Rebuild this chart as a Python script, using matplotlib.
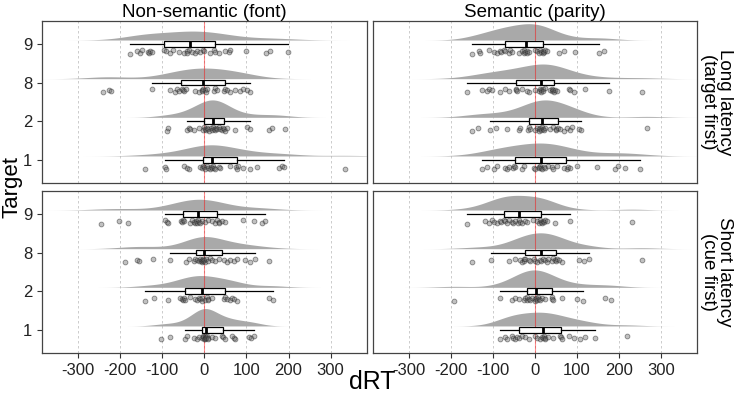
import numpy as np
import matplotlib
matplotlib.use("Agg")
import matplotlib.pyplot as plt

plt.rcParams['font.family'] = ['Liberation Sans', 'DejaVu Sans']

# dRT values per target
targets = ['1', '2', '8', '9']
columns = ['Non-semantic (font)', 'Semantic (parity)']
rows = ['Long latency\n(target first)', 'Short latency\n(cue first)']

font_long_9 = [-177, -160, -153, -148, -134, -130, -128, -124, -96, -91, -81, -73, -61, -47, -41, -40, -37,
               -29, -23, -17, -9, -4, 0, 14, 22, 26, 36, 50, 58, 62, 99, 147, 157, 198]
font_long_8 = [-241, -227, -221, -123, -81, -69, -65, -61, -53, -50, -48, -43, -21, -13, -6, -5, -2, 2, 3, 6,
               22, 26, 30, 48, 50, 54, 62, 74, 85, 93, 101, 109]
font_long_2 = [-89, -85, -41, -37, -33, -25, -13, -2, 0, 2, 5, 6, 10, 12, 15, 18, 20, 22, 26, 28, 30, 34, 38,
               42, 45, 46, 50, 55, 74, 101, 109, 153, 160, 192]
font_long_1 = [-140, -92, -91, -47, -41, -37, -9, -6, -2, 0, 2, 6, 10, 14, 15, 18, 20, 22, 26, 34, 38, 60, 75,
               77, 81, 93, 109, 125, 178, 184, 190, 333]

sem_long_9 = [-149, -132, -130, -110, -98, -90, -82, -80, -73, -70, -62, -60, -55, -39, -31, -27, -25, -23,
              -20, -19, -15, 0, 5, 10, 13, 15, 18, 20, 22, 25, 28, 56, 68, 96, 151, 165]
sem_long_8 = [-161, -126, -114, -110, -102, -82, -70, -62, -45, -45, -43, -30, -19, -15, 1, 9, 12, 15, 15, 18,
              20, 25, 36, 40, 40, 44, 45, 48, 52, 80, 84, 92, 119, 175, 254]
sem_long_2 = [-149, -134, -106, -92, -66, -39, -35, -17, -15, -12, 1, 5, 9, 10, 13, 15, 17, 20, 21, 25, 36, 44,
              50, 50, 55, 60, 68, 76, 84, 88, 104, 110, 266]
sem_long_1 = [-126, -114, -98, -90, -70, -66, -62, -51, -50, -47, -31, -27, -3, 1, 9, 10, 13, 15, 17, 21, 25,
              32, 40, 44, 52, 70, 76, 78, 84, 100, 147, 191, 198, 214, 250]

font_short_9 = [-244, -202, -181, -92, -89, -85, -55, -53, -50, -49, -33, -29, -25, -21, -20, -17, -15, -13,
                -10, -6, 2, 10, 18, 26, 30, 34, 36, 42, 50, 93, 119, 138, 145]
font_short_8 = [-189, -160, -154, -122, -81, -43, -37, -25, -21, -17, -13, -9, -8, -6, -5, -3, -2, 0, 2, 5,
                10, 14, 18, 26, 34, 46, 54, 62, 70, 77, 97, 109, 121, 153]
font_short_2 = [-140, -120, -85, -57, -53, -50, -49, -45, -33, -21, -17, -13, -10, -6, -5, 2, 6, 10, 10, 18,
                46, 50, 54, 60, 66, 70, 77, 153, 164]
font_short_1 = [-102, -81, -45, -41, -25, -17, -13, -6, -3, -2, 0, 1, 1, 2, 3, 5, 6, 8, 10, 18, 26, 42, 45,
                50, 66, 70, 74, 105, 111, 117]

sem_short_9 = [-161, -118, -110, -102, -98, -90, -82, -80, -74, -70, -66, -62, -55, -51, -47, -40, -39, -35,
               -30, -23, -20, -5, 5, 10, 13, 15, 17, 20, 21, 25, 28, 48, 84, 230]
sem_short_8 = [-149, -104, -62, -47, -35, -31, -27, -25, -23, -15, -11, -3, 1, 5, 13, 15, 20, 25, 28, 32, 40,
               44, 48, 50, 52, 56, 64, 104, 117, 129, 254]
sem_short_2 = [-193, -82, -55, -47, -39, -27, -23, -20, -19, -15, -11, -7, 0, 1, 3, 5, 8, 9, 13, 17, 25, 40,
               40, 44, 64, 100, 115, 167, 181]
sem_short_1 = [-82, -70, -66, -55, -51, -47, -43, -39, -31, -23, -15, 1, 5, 13, 17, 20, 21, 25, 25, 32, 44,
               60, 62, 64, 80, 92, 107, 119, 143, 218]

panels = {
    (0, 0): [font_long_1, font_long_2, font_long_8, font_long_9],
    (0, 1): [sem_long_1, sem_long_2, sem_long_8, sem_long_9],
    (1, 0): [font_short_1, font_short_2, font_short_8, font_short_9],
    (1, 1): [sem_short_1, sem_short_2, sem_short_8, sem_short_9],
}


def kde(vals):
    v = np.asarray(vals, dtype=float)
    n = len(v)
    bw = 1.06 * v.std(ddof=1) * n ** -0.2
    grid = np.linspace(v.min() - 3 * bw, v.max() + 3 * bw, 512)
    d = np.exp(-0.5 * ((grid[:, None] - v[None, :]) / bw) ** 2).sum(axis=1)
    d /= n * bw * np.sqrt(2 * np.pi)
    return grid, d


fig = plt.figure(figsize=(7.4, 3.98), dpi=100)
lefts = [42 / 740, 372.7 / 740]
bottoms = [1 - 183 / 398, 1 - 353 / 398]
w, h = 324.5 / 740, 162.3 / 398

for (r, c), groups in panels.items():
    ax = fig.add_axes([lefts[c], bottoms[r], w, h])
    ax.set_xlim(-385, 385)
    ax.set_ylim(0.4, 4.6)
    for xv in range(-300, 301, 100):
        ax.axvline(xv, color='#c4c4c4', lw=0.6, ls=(0, (3, 3)), zorder=0)

    dens = [kde(g) for g in groups]
    dmax = max(d.max() for _, d in dens)
    for i, (g, (grid, d)) in enumerate(zip(groups, dens)):
        pos = i + 1
        base = pos + 0.1
        ax.fill_between(grid, base, base + d / dmax * 0.45, color='#a9a9a9', lw=0, zorder=1)
        k = np.arange(len(g))
        jit = ((k * 0.618034) % 1 - 0.5) * 0.1
        ax.scatter(g, pos - 0.2 + jit, s=12, facecolor=(0.4, 0.4, 0.4, 0.4),
                   edgecolor=(0.15, 0.15, 0.15, 0.5), linewidths=0.6, zorder=4)
        ax.boxplot([g], positions=[pos], vert=False, widths=0.15, showfliers=False,
                   showcaps=False, patch_artist=True, manage_ticks=False,
                   boxprops=dict(facecolor='white', edgecolor='black', lw=0.9),
                   whiskerprops=dict(color='black', lw=0.9),
                   medianprops=dict(color='black', lw=2), zorder=3)

    ax.axvline(0, color='red', alpha=0.45, lw=0.8, zorder=2)

    for sp in ax.spines.values():
        sp.set_color('#444444')
        sp.set_linewidth(0.9)

    ax.set_yticks([1, 2, 3, 4])
    ax.set_xticks(range(-300, 301, 100))
    ax.tick_params(colors='#333333', labelsize=12, length=3.5, width=0.8)
    if c == 0:
        ax.set_yticklabels(targets, color='#222222')
    else:
        ax.tick_params(axis='y', left=False, labelleft=False)
    if r == 1:
        ax.set_xticklabels([str(t) for t in range(-300, 301, 100)], color='#222222')
    else:
        ax.tick_params(axis='x', bottom=False, labelbottom=False)

    if r == 0:
        ax.set_title(columns[c], fontsize=13.5, pad=2)
    if c == 1:
        ax.text(1.06, 0.5, rows[r], transform=ax.transAxes, rotation=270,
                ha='center', va='center', fontsize=13.5, linespacing=0.95)

fig.text(12 / 740, 1 - 187 / 398, 'Target', rotation=90, ha='center', va='center', fontsize=16)
fig.text(372 / 740, 1 - 382 / 398, 'dRT', ha='center', va='center', fontsize=18)

fig.savefig('out.png', dpi=100)
